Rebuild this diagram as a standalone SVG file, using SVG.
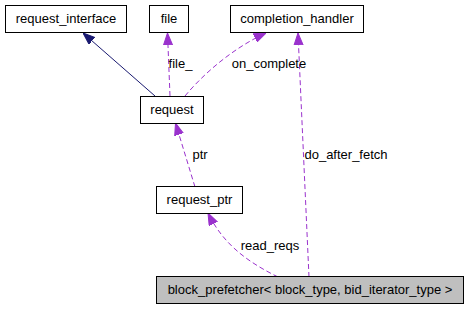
<svg xmlns="http://www.w3.org/2000/svg" width="468" height="309" viewBox="0 0 468 309">
  <style>
    .node rect { fill: #ffffff; stroke: #000000; stroke-width: 1; }
    .node.main rect { fill: #bfbfbf; }
    text { font-family: "Liberation Sans", Arial, Helvetica, sans-serif; font-size: 13px; fill: #000000; }
    .node text { text-anchor: middle; }
    .edge { fill: none; stroke-width: 1; }
    .inherit { stroke: #191970; marker-end: url(#arrowNavy); }
    .usage { stroke: #9a32cd; stroke-dasharray: 5,3; marker-end: url(#arrowPurple); }
    .elabel { text-anchor: middle; }
  </style>
  <defs>
    <marker id="arrowNavy" viewBox="0 0 12 10" refX="12" refY="5" markerWidth="12" markerHeight="10" markerUnits="userSpaceOnUse" orient="auto">
      <path d="M0,0.5 L12,5 L0,9.5 z" fill="#191970" stroke="#191970" stroke-width="1" stroke-dasharray="none"/>
    </marker>
    <marker id="arrowPurple" viewBox="0 0 12 10" refX="12" refY="5" markerWidth="12" markerHeight="10" markerUnits="userSpaceOnUse" orient="auto">
      <path d="M0,0.5 L12,5 L0,9.5 z" fill="#9a32cd" stroke="#9a32cd" stroke-width="1" stroke-dasharray="none"/>
    </marker>
  </defs>

  <g id="connectors">
    <path class="edge inherit" d="M155,96 L83,33"/>
    <path class="edge usage" d="M170,96 L167.5,33"/>
    <path class="edge usage" d="M185,96 C205,72 235,47 266,33"/>
    <path class="edge usage" d="M309,277 L298,33"/>
    <path class="edge usage" d="M195,187 L175.5,123"/>
    <path class="edge usage" d="M278,277 C250,263 224,246 208,213"/>
    <text class="elabel" x="180.5" y="68">file_</text>
    <text class="elabel" x="269" y="68">on_complete</text>
    <text class="elabel" x="346" y="159">do_after_fetch</text>
    <text class="elabel" x="200" y="159">ptr</text>
    <text class="elabel" x="270" y="250">read_reqs</text>
  </g>

  <g id="node-request_interface" class="node">
    <rect x="5.5" y="5.5" width="121" height="27"/>
    <text x="66" y="23">request_interface</text>
  </g>
  <g id="node-file" class="node">
    <rect x="149.5" y="5.5" width="39" height="27"/>
    <text x="169" y="23">file</text>
  </g>
  <g id="node-completion_handler" class="node">
    <rect x="230.5" y="5.5" width="133" height="27"/>
    <text x="297" y="23">completion_handler</text>
  </g>
  <g id="node-request" class="node">
    <rect x="140.5" y="96.5" width="63" height="27"/>
    <text x="172" y="114">request</text>
  </g>
  <g id="node-request_ptr" class="node">
    <rect x="156.5" y="186.5" width="86" height="27"/>
    <text x="199.5" y="204">request_ptr</text>
  </g>
  <g id="node-block_prefetcher" class="node main">
    <rect x="156.5" y="276.5" width="307" height="27"/>
    <text x="310" y="294">block_prefetcher&lt; block_type, bid_iterator_type &gt;</text>
  </g>
</svg>
